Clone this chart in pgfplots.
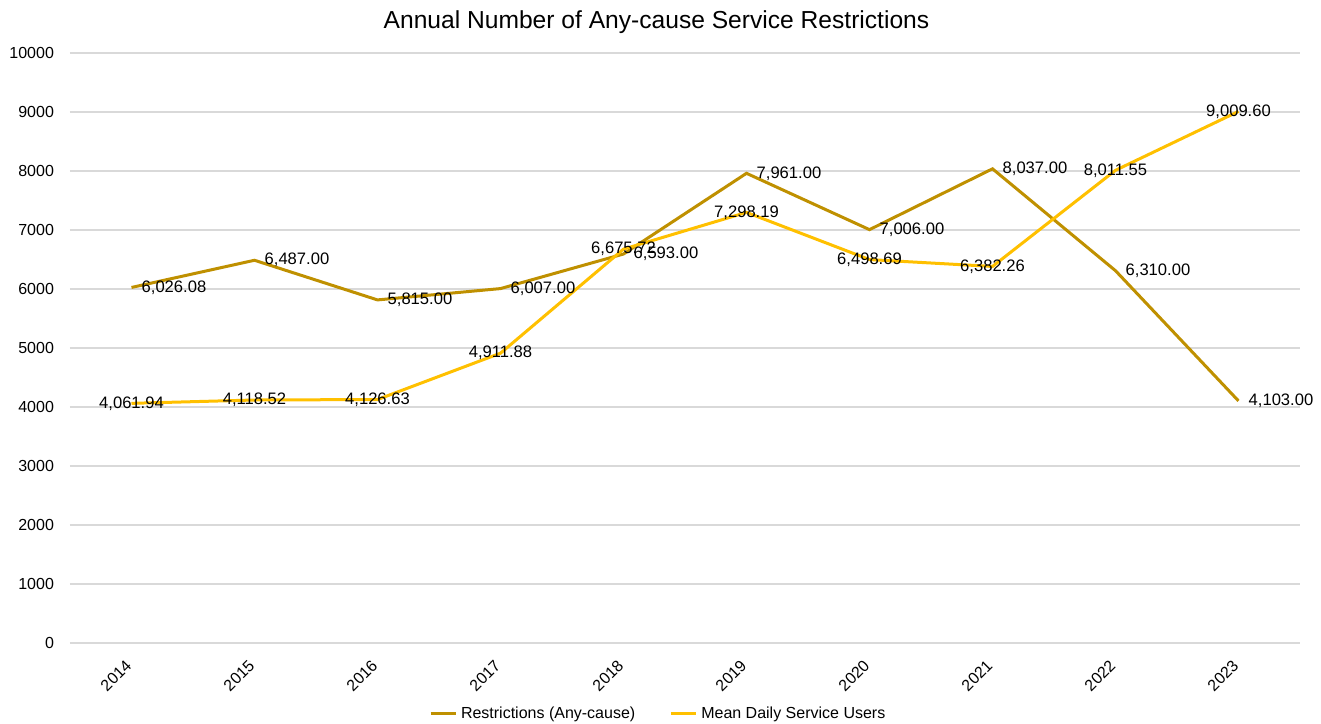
\documentclass[border=0pt]{standalone}
\usepackage{fontspec}
\setmainfont{Liberation Sans}
\usepackage{pgfplots}
\pgfplotsset{compat=1.18}
\definecolor{restr}{HTML}{BF9000}
\definecolor{users}{HTML}{FFC000}
\definecolor{gridgray}{HTML}{D9D9D9}

\begin{document}
\begin{tikzpicture}
\begin{axis}[
  scale only axis, width=615pt, height=295pt,
  xmin=-0.5, xmax=9.5, ymin=0, ymax=10000,
  xtick={0,...,9},
  xticklabels={2014,2015,2016,2017,2018,2019,2020,2021,2022,2023},
  ytick distance=1000, scaled y ticks=false,
  axis line style={draw=none},
  ymajorgrids, grid style={gridgray, line width=0.6pt},
  major tick length=0pt,
  tick label style={font=\fontsize{8}{9.6}\selectfont},
  yticklabel style={xshift=-4.5pt},
  xticklabel style={xshift=-3.5pt, yshift=-3pt, rotate=45, anchor=north east},
  /pgf/number format/assume math mode=true,
  /pgf/number format/1000 sep={},
  title={Annual Number of Any-cause Service Restrictions},
  title style={at={(0.4768,1)}, anchor=center, yshift=9.5pt, font=\fontsize{12.3}{14}\selectfont},
  legend style={at={(0.479,-0.12)}, anchor=center, draw=none, legend columns=2,
    font=\fontsize{8}{9.6}\selectfont, inner sep=0pt,
    /tikz/every even column/.append style={column sep=15pt}},
  legend image code/.code={\draw[#1] (0pt,0pt) -- (12.5pt,0pt);},
  clip=false,
  point meta=explicit symbolic,
]
\addplot[restr, line width=1.5pt, nodes near coords,
  every node near coord/.append style={anchor=west, text=black, xshift=1pt,
    font=\fontsize{8.3}{10}\selectfont}]
  coordinates {
  (0,6026.08) [6,026.08]
  (1,6487) [6,487.00]
  (2,5815) [5,815.00]
  (3,6007) [6,007.00]
  (4,6593) [6,593.00]
  (5,7961) [7,961.00]
  (6,7006) [7,006.00]
  (7,8037) [8,037.00]
  (8,6310) [6,310.00]
  (9,4103) [4,103.00]
  };
\addlegendentry{Restrictions (Any-cause)}
\addplot[users, line width=1.5pt, nodes near coords,
  every node near coord/.append style={anchor=center, text=black,
    font=\fontsize{8.3}{10}\selectfont}]
  coordinates {
  (0,4061.94) [4,061.94]
  (1,4118.52) [4,118.52]
  (2,4126.63) [4,126.63]
  (3,4911.88) [4,911.88]
  (4,6675.72) [6,675.72]
  (5,7298.19) [7,298.19]
  (6,6498.69) [6,498.69]
  (7,6382.26) [6,382.26]
  (8,8011.55) [8,011.55]
  (9,9009.60) [9,009.60]
  };
\addlegendentry{Mean Daily Service Users}
\coordinate (SW) at (rel axis cs:0,0);
\coordinate (NE) at (rel axis cs:1,1);
\end{axis}
\pgfresetboundingbox
\path[use as bounding box] ([shift={(-35pt,-40.5pt)}]SW) rectangle ([shift={(10.5pt,26.5pt)}]NE);
\end{tikzpicture}
\end{document}
